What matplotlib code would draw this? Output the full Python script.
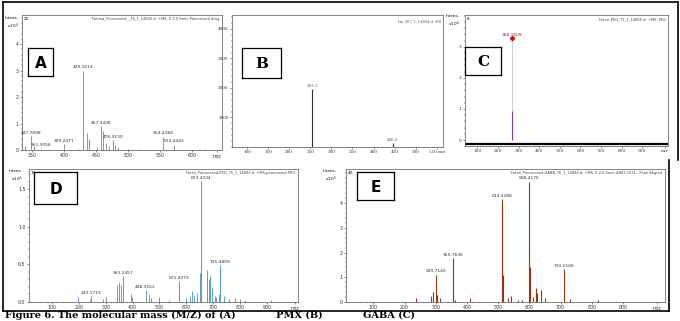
import matplotlib
matplotlib.use("Agg")
import matplotlib.pyplot as plt
from matplotlib.lines import Line2D
from matplotlib.ticker import MultipleLocator, AutoMinorLocator

W, H = 680, 321

# ---- data ----
# A: pomerexed drug, x10^4
a_mz = [339, 347.79, 353, 364, 399.25, 421, 429.16, 436, 439, 452, 457.34, 460,
        465, 470, 476.31, 479, 484, 500, 516, 554.44, 572.44, 620]
a_int = [0.15, 0.53, 0.15, 0.05, 0.22, 0.05, 3.0, 0.63, 0.4, 0.1, 0.9, 0.7,
         0.25, 0.15, 0.38, 0.2, 0.1, 0.03, 0.04, 0.5, 0.2, 0.03]
a_lab_mz = [347.79, 364, 399.25, 429.16, 457.34, 476.31, 554.44, 572.44]
a_lab = ["347.7898", "361.3056", "399.2471", "429.1614", "457.3436", "476.3130",
         "554.4384", "572.4442"]

# B: PMX
b_mz = [255.1, 446.2]
b_int = [1.96, 0.13]
b_lab = ["255.1", "446.2"]

# C: PEG, x10^6
c_mz = [268.16]
c_int = [0.93]
c_top = [3.27]
c_lab = ["268.1609"]

# D: pomerexed-PEG, x10^5
d_mz = [197, 241, 243.17, 290, 300, 340, 350, 355, 363.25, 395, 398, 448.32,
        460, 470, 500, 535, 571.41, 600, 615, 622, 630, 640, 650, 653.42, 655,
        678, 685, 690, 695, 705, 712, 720, 725.48, 740, 760, 780, 800, 820, 915]
d_int = [0.07, 0.02, 0.08, 0.04, 0.07, 0.22, 0.26, 0.23, 0.34, 0.1, 0.07, 0.16,
         0.1, 0.05, 0.06, 0.03, 0.28, 0.05, 0.08, 0.15, 0.09, 0.12, 0.38, 1.61, 1.35,
         0.43, 0.3, 0.35, 0.2, 0.08, 0.06, 0.1, 0.49, 0.08, 0.04, 0.05, 0.04, 0.03, 0.03]
d_lab_mz = [243.17, 363.25, 448.32, 571.41, 653.42, 725.48]
d_lab = ["243.1719", "363.2457", "448.3162", "571.4073", "653.4234", "725.4809"]

# E: pomerexed-GABA, x10^5
e_mz = [235, 285, 292, 299.71, 305, 315, 355.76, 360, 410, 513.33, 516, 530, 540,
        563, 578, 598.42, 601, 612, 620, 625, 638, 650, 710.52, 730, 820]
e_int = [0.15, 0.25, 0.4, 1.1, 0.3, 0.15, 1.76, 0.1, 0.15, 4.15, 1.1, 0.15, 0.25,
         0.08, 0.08, 4.86, 1.4, 0.2, 0.58, 0.35, 0.5, 0.15, 1.32, 0.13, 0.08]
e_lab_mz = [299.71, 355.76, 513.33, 598.42, 710.52]
e_lab = ["299.7140", "355.7636", "513.3288", "598.4176", "710.5166"]

fig = plt.figure(figsize=(W / 100, H / 100), dpi=100)


def px_axes(x0, y0, x1, y1):
    return fig.add_axes([x0 / W, 1 - y1 / H, (x1 - x0) / W, (y1 - y0) / H])


def fline(xs, ys, lw=1.2):
    fig.add_artist(Line2D([x / W for x in xs], [1 - y / H for y in ys],
                          transform=fig.transFigure, color="black", lw=lw))


def ftext(x, y, s, **kw):
    fig.text(x / W, 1 - y / H, s, **kw)


def style(ax, fs=3.4):
    for sp in ax.spines.values():
        sp.set_linewidth(0.5)
        sp.set_color("#555555")
    ax.tick_params(labelsize=fs, length=1.5, width=0.4, pad=1, colors="#333333")
    ax.tick_params(which="minor", length=1, width=0.3)
    ax.xaxis.set_minor_locator(AutoMinorLocator(5))
    ax.yaxis.set_minor_locator(AutoMinorLocator(5))


def tag(x0, y0, x1, y1, letter, family="DejaVu Sans"):
    bx = px_axes(x0, y0, x1, y1)
    bx.set_xticks([])
    bx.set_yticks([])
    for sp in bx.spines.values():
        sp.set_linewidth(0.9)
    bx.text(0.5, 0.45, letter, ha="center", va="center", fontsize=11,
            fontweight="bold", family=family, transform=bx.transAxes)


def labels(ax, xs, ys, texts, color="#333333", fs=3.2):
    for x, y, t in zip(xs, ys, texts):
        ax.annotate(t, (x, y), xytext=(0, 1), textcoords="offset points",
                    ha="center", va="bottom", fontsize=fs, color=color)


# ---- outer frames ----
fline([3, 678], [2, 2])
fline([3, 3], [2, 311])
fline([678, 678], [2, 160])
fline([669, 669], [160, 311])
fline([3, 669], [311, 311])

# ---- A ----
ax = px_axes(22, 15, 222, 150)
ax.vlines(a_mz, 0, a_int, color="#6f8f6f", lw=0.6)
labels(ax, a_lab_mz, [a_int[a_mz.index(m)] for m in a_lab_mz], a_lab)
ax.set_xlim(334, 647)
ax.set_ylim(0, 5.1)
ax.set_xticks([350, 400, 450, 500, 550, 600, 639])
ax.set_xticklabels(["350", "400", "450", "500", "550", "600", "m/z"])
ax.set_yticks([0, 1, 2, 3, 4])
style(ax)
ax.text(0.99, 0.985, "Fatima_Pomerexed__74_1_14892.d: +MS, 0.7-0.9min Pomerexed drug",
        transform=ax.transAxes, ha="right", va="top", fontsize=2.6, color="#444444")
ax.text(0.01, 0.985, "20.", transform=ax.transAxes, ha="left", va="top", fontsize=2.8)
ftext(12, 16, "Intens.\n x10$^4$", fontsize=3, ha="center", va="top")
tag(28, 48, 53, 76, "A")

# ---- B ----
ax = px_axes(232, 15, 443, 147)
ax.vlines(b_mz, 0, b_int, color="#333333", lw=0.8)
labels(ax, b_mz, b_int, b_lab, color="#666666", fs=3)
ax.set_xlim(64.5, 564.5)
ax.set_ylim(0, 4.47)
ax.set_xticks(range(100, 551, 50))
ax.set_xticklabels([str(v) for v in range(100, 501, 50)] + ["550 m/z"],
                   family="DejaVu Serif")
ax.set_yticks([1, 2, 3, 4])
ax.set_yticklabels(["1000", "2000", "3000", "4000"], family="DejaVu Serif")
style(ax, fs=3)
ax.xaxis.set_minor_locator(MultipleLocator(10))
ax.text(0.99, 0.97, "Im_267_1_14894.d: MS", transform=ax.transAxes, ha="right",
        va="top", fontsize=2.6, color="#555555", family="DejaVu Serif")
tag(242, 48, 281, 78, "B", family="DejaVu Serif")

# ---- C ----
ax = px_axes(465, 15, 668, 146)
ax.vlines(c_mz, c_int, c_top, color="#cfcfdc", lw=0.8)
ax.vlines(c_mz, 0, c_int, color="#7a3c9e", lw=0.8)
ax.plot(c_mz, c_top, marker="D", color="#d01010", ms=2.2, lw=0)
labels(ax, c_mz, c_top, c_lab, color="#c01010", fs=3.2)
ax.axhline(-0.13, color="black", lw=1.6)
ax.set_xlim(40, 1025)
ax.set_ylim(-0.19, 4.02)
ax.set_xticks([100, 200, 300, 400, 500, 600, 700, 800, 900, 1011])
ax.set_xticklabels(["100", "200", "300", "400", "500", "600", "700", "800", "900", "m/z"],
                   family="DejaVu Serif")
ax.set_yticks([0, 1, 2, 3])
style(ax, fs=3.2)
ax.text(0.99, 0.985, "Faten_PEG_77_1_14895.d: +MS, PEG", transform=ax.transAxes,
        ha="right", va="top", fontsize=2.6, color="#444444")
ax.text(0.01, 0.985, "8.", transform=ax.transAxes, ha="left", va="top", fontsize=2.8)
ftext(453, 14, "Intens.\n x10$^6$", fontsize=3, ha="center", va="top")
tag(465, 47, 501, 75, "C", family="DejaVu Serif")

# ---- D ----
ax = px_axes(29, 169, 298, 302)
ax.vlines(d_mz, 0, d_int, color="#5b9bd5", lw=0.7)
labels(ax, d_lab_mz, [d_int[d_mz.index(m)] for m in d_lab_mz], d_lab)
ax.set_xlim(14, 1016)
ax.set_ylim(0, 1.77)
ax.set_xticks([100, 200, 300, 400, 500, 600, 700, 800, 900, 1004])
ax.set_xticklabels(["100", "200", "300", "400", "500", "600", "700", "800", "900", "m/z"])
ax.set_yticks([0, 0.5, 1.0, 1.5])
ax.set_yticklabels(["0.0", "0.5", "1.0", "1.5"])
style(ax)
ax.text(0.99, 0.985, "Faten_Pomerexed-PEG_75_1_14893.d: +MS,pomerexed-PEG",
        transform=ax.transAxes, ha="right", va="top", fontsize=2.6, color="#444444")
ax.text(0.005, 0.985, "74.", transform=ax.transAxes, ha="left", va="top", fontsize=2.8)
ftext(16, 169, "Intens.\n x10$^5$", fontsize=3, ha="center", va="top")
tag(34, 172, 77, 204, "D")

# ---- E ----
ax = px_axes(346, 169, 665, 302)
ax.vlines(e_mz, 0, e_int, color="#a3300f", lw=0.8)
labels(ax, e_lab_mz, [e_int[e_mz.index(m)] for m in e_lab_mz], e_lab)
ax.set_xlim(12, 1035)
ax.set_ylim(0, 5.38)
ax.set_xticks([100, 200, 300, 400, 500, 600, 700, 800, 900, 1009])
ax.set_xticklabels(["100", "200", "300", "400", "500", "600", "700", "800", "900", "m/z"])
ax.set_yticks([0, 1, 2, 3, 4])
style(ax)
ax.text(0.99, 0.985, "Faten_Pomerexed-GABA_76_1_14894.d: +MS, 6.2-6.4min #883-1031, -Peak Bkgrnd",
        transform=ax.transAxes, ha="right", va="top", fontsize=2.6, color="#444444")
ax.text(0.005, 0.985, "43.", transform=ax.transAxes, ha="left", va="top", fontsize=2.8)
ftext(330, 169, "Intens.\n x10$^5$", fontsize=3, ha="center", va="top")
tag(357, 172, 394, 200, "E")

# ---- caption ----
ftext(5, 320.5, "Figure 6. The molecular mass (M/Z) of (A)            PMX (B)            GABA (C)",
      fontsize=7, fontweight="bold", family="DejaVu Serif", ha="left", va="bottom")

fig.savefig("out.png", dpi=100)
